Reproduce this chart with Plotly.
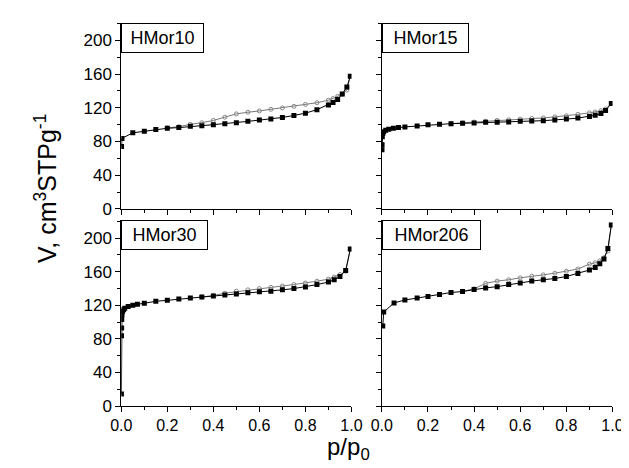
import plotly.graph_objects as go

# ---------------- data ----------------
panel_names = ["HMor10", "HMor15", "HMor30", "HMor206"]

# HMor10
hm10_ads_x = [0.001, 0.003, 0.05, 0.10, 0.15, 0.20, 0.25, 0.30, 0.35, 0.40, 0.45, 0.50, 0.55, 0.60,
              0.65, 0.70, 0.75, 0.80, 0.85, 0.90, 0.92, 0.94, 0.96, 0.98, 0.995]
hm10_ads_y = [74, 83.7, 90.3, 92.2, 94.2, 95.7, 96.5, 98.0, 98.8, 100.0, 101.0, 102.3, 103.9, 105.4,
              106.6, 108.5, 110.9, 113.6, 117.8, 123.3, 126.4, 129.8, 136.4, 144.6, 157.4]
hm10_des_x = [0.995, 0.98, 0.96, 0.94, 0.92, 0.90, 0.85, 0.80, 0.75, 0.70, 0.65, 0.60, 0.55, 0.50,
              0.45, 0.40, 0.35, 0.30, 0.25, 0.20]
hm10_des_y = [157.4, 141.0, 136.0, 133.5, 131.0, 129.0, 126.0, 124.0, 121.7, 119.8, 118.2, 116.3, 114.7,
              112.8, 108.9, 105.0, 102.3, 100.4, 97.5, 96.2]

# HMor15
hm15_ads_x = [0.0005, 0.001, 0.002, 0.004, 0.008, 0.017, 0.03, 0.05, 0.072, 0.10, 0.153, 0.20, 0.25,
              0.30, 0.35, 0.40, 0.45, 0.50, 0.55, 0.60, 0.65, 0.70, 0.75, 0.80, 0.85, 0.90, 0.925,
              0.95, 0.97, 0.995]
hm15_ads_y = [70.2, 76.0, 85.7, 89.5, 91.5, 93.4, 94.6, 95.7, 96.5, 97.3, 98.4, 100.0, 100.4, 101.2,
              101.6, 101.9, 102.7, 102.7, 103.1, 103.9, 104.3, 104.7, 105.4, 106.6, 107.8, 109.7,
              111.2, 113.2, 116.7, 125.2]
hm15_des_x = [0.995, 0.97, 0.95, 0.925, 0.90, 0.85, 0.80, 0.75, 0.70, 0.65, 0.60, 0.55, 0.50, 0.45,
              0.40, 0.35, 0.30]
hm15_des_y = [125.2, 118.5, 116.5, 115.0, 114.0, 112.2, 110.5, 109.2, 108.0, 107.3, 106.6, 105.8,
              105.0, 104.0, 103.1, 102.0, 101.2]

# HMor30
hm30_ads_x = [0.0005, 0.001, 0.0015, 0.002, 0.003, 0.005, 0.01, 0.015, 0.03, 0.05, 0.07, 0.10, 0.15,
              0.20, 0.25, 0.30, 0.35, 0.40, 0.45, 0.50, 0.55, 0.60, 0.65, 0.70, 0.75, 0.80, 0.85,
              0.90, 0.925, 0.95, 0.975, 0.995]
hm30_ads_y = [14.4, 83.5, 93.0, 103.0, 108.7, 112.6, 114.6, 116.5, 118.4, 120.0, 121.1, 122.3, 124.7,
              125.8, 127.4, 128.5, 129.7, 130.9, 132.0, 133.2, 134.8, 135.9, 136.7, 138.3, 139.8,
              141.7, 144.5, 147.6, 150.3, 154.2, 161.2, 186.8]
hm30_des_x = [0.995, 0.975, 0.95, 0.925, 0.90, 0.85, 0.80, 0.75, 0.70, 0.65, 0.60, 0.55, 0.50, 0.45,
              0.40, 0.35]
hm30_des_y = [186.8, 160.5, 156.5, 153.5, 151.0, 148.6, 146.4, 144.6, 142.9, 141.3, 139.8, 138.3,
              136.7, 134.3, 131.5, 129.8]

# HMor206
hm206_ads_x = [0.004, 0.008, 0.053, 0.10, 0.153, 0.20, 0.25, 0.30, 0.35, 0.40, 0.45, 0.50, 0.55, 0.60,
               0.65, 0.70, 0.75, 0.80, 0.85, 0.90, 0.925, 0.945, 0.963, 0.98, 0.995]
hm206_ads_y = [95.1, 111.8, 122.7, 126.2, 128.5, 130.5, 132.8, 135.1, 136.3, 138.6, 140.6, 142.1,
               144.5, 146.4, 148.7, 150.3, 151.8, 154.2, 157.7, 161.9, 165.0, 169.3, 175.1, 187.6,
               215.5]
hm206_des_x = [0.995, 0.98, 0.963, 0.945, 0.925, 0.90, 0.85, 0.80, 0.75, 0.70, 0.65, 0.60, 0.55,
               0.50, 0.45, 0.40, 0.35]
hm206_des_y = [215.5, 184.5, 176.5, 172.8, 170.5, 168.9, 163.1, 160.4, 158.1, 156.1, 154.6, 152.6,
               150.3, 148.7, 146.0, 139.5, 136.5]

x_tickvals = [0.0, 0.2, 0.4, 0.6, 0.8, 1.0]
x_ticktext = ["0.0", "0.2", "0.4", "0.6", "0.8", "1.0"]
y_tickvals = [0, 40, 80, 120, 160, 200]
y_ticktext = ["0", "40", "80", "120", "160", "200"]

panels = [
    (hm10_ads_x, hm10_ads_y, hm10_des_x, hm10_des_y),
    (hm15_ads_x, hm15_ads_y, hm15_des_x, hm15_des_y),
    (hm30_ads_x, hm30_ads_y, hm30_des_x, hm30_des_y),
    (hm206_ads_x, hm206_ads_y, hm206_des_x, hm206_des_y),
]

# ---------------- figure ----------------
W, H = 629, 468
FONT = "Liberation Sans, Arial, sans-serif"

x_dom = [[106 / W, 344.5 / W], [376 / W, 615 / W]]
y_dom = [[1 - 205.3 / H, 1 - 15 / H], [1 - 406.7 / H, 1 - 217 / H]]

fig = go.Figure()
for i, (ax_, ay_, dx_, dy_) in enumerate(panels):
    sfx = "" if i == 0 else str(i + 1)
    fig.add_trace(go.Scatter(x=dx_, y=dy_, mode="lines+markers", xaxis="x" + sfx, yaxis="y" + sfx,
                             line=dict(color="#777777", width=1),
                             marker=dict(symbol="circle-open", size=4, color="#888888",
                                         line=dict(width=1, color="#888888")),
                             showlegend=False, hoverinfo="skip"))
    fig.add_trace(go.Scatter(x=ax_, y=ay_, mode="lines+markers", xaxis="x" + sfx, yaxis="y" + sfx,
                             line=dict(color="black", width=1),
                             marker=dict(symbol="square", size=5, color="black"),
                             showlegend=False, hoverinfo="skip"))

layout = dict(
    width=W, height=H,
    margin=dict(l=0, r=0, t=0, b=0),
    paper_bgcolor="white", plot_bgcolor="white",
    font=dict(family=FONT, size=17, color="black"),
    showlegend=False,
)

box_widths = [73, 77, 77, 89]
for i in range(4):
    sfx = "" if i == 0 else str(i + 1)
    col = i % 2
    row = i // 2
    xa = dict(domain=x_dom[col], range=[0, 1.0], anchor="y" + sfx,
              showline=True, linecolor="black", linewidth=1, mirror=False,
              showgrid=False, zeroline=False,
              ticks="outside", ticklen=5, tickwidth=1, tickcolor="black",
              tickvals=x_tickvals, ticktext=x_ticktext,
              showticklabels=(row == 1),
              tickfont=dict(family=FONT, size=16),
              minor=dict(tickvals=[0.1, 0.3, 0.5, 0.7, 0.9], ticks="outside", ticklen=3,
                         tickwidth=1, tickcolor="black"))
    ya = dict(domain=y_dom[row], range=[0, 221], anchor="x" + sfx,
              showline=True, linecolor="black", linewidth=1, mirror=False,
              showgrid=False, zeroline=False,
              ticks="outside", ticklen=5, tickwidth=1, tickcolor="black",
              tickvals=y_tickvals, ticktext=y_ticktext,
              showticklabels=(col == 0),
              tickfont=dict(family=FONT, size=17),
              minor=dict(tickvals=[20, 60, 100, 140, 180, 220], ticks="outside", ticklen=3,
                         tickwidth=1, tickcolor="black"))
    layout["xaxis" + sfx] = xa
    layout["yaxis" + sfx] = ya

annotations = []
for i, name in enumerate(panel_names):
    col = i % 2
    row = i // 2
    annotations.append(dict(
        text=name, xref="paper", yref="paper",
        x=x_dom[col][0], y=y_dom[row][1], xanchor="left", yanchor="top",
        showarrow=False, font=dict(family=FONT, size=18, color="black"),
        bordercolor="black", borderwidth=1, borderpad=4, bgcolor="white",
        width=box_widths[i], height=20, align="center"))

annotations.append(dict(
    text="V, cm<sup>3</sup>STPg<sup>-1</sup>", xref="paper", yref="paper",
    x=28 / W, y=1 - 185 / H, xanchor="center", yanchor="middle", textangle=-90,
    showarrow=False, font=dict(family=FONT, size=25, color="black")))
annotations.append(dict(
    text="p/p<sub>0</sub>", xref="paper", yref="paper",
    x=341 / W, y=1 - 450 / H, xanchor="center", yanchor="middle",
    showarrow=False, font=dict(family=FONT, size=24, color="black")))

layout["annotations"] = annotations
fig.update_layout(**layout)

fig.write_html("out.html")
